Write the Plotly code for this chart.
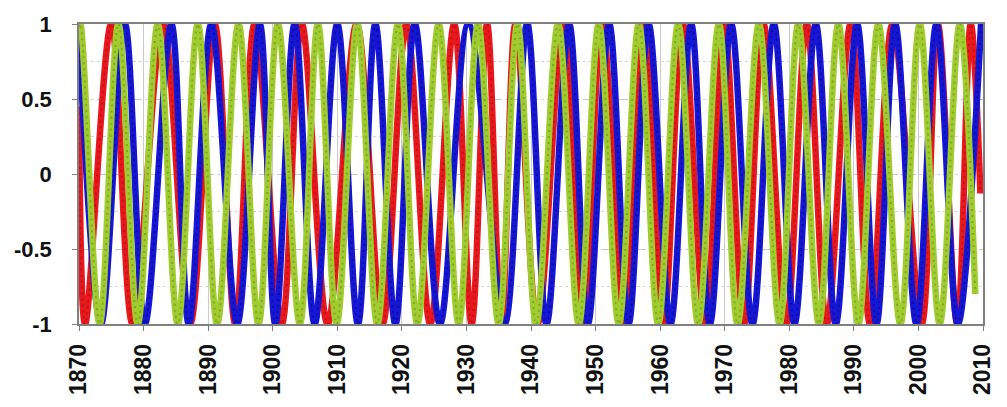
import plotly.graph_objects as go

# Turning points of each cycle (year, value); the curves are smoothed between them.
green_years = [1870.0, 1870.2, 1873.2, 1876.1, 1879.1, 1882.2, 1885.3, 1888.4, 1891.4, 1894.7,
               1897.8, 1900.8, 1904.2, 1907.0, 1909.9, 1913.1, 1916.2, 1919.4, 1922.4, 1925.7,
               1928.8, 1931.8, 1935.0, 1937.9, 1940.8, 1944.2, 1947.4, 1950.5, 1953.6, 1956.7,
               1959.7, 1962.8, 1965.9, 1969.1, 1972.0, 1975.3, 1978.5, 1981.4, 1984.6, 1987.6,
               1990.7, 1993.8, 1997.2, 2000.2, 2003.3, 2006.4, 2008.8]
green_vals = [0.98, 1, -1, 1, -1, 1, -1, 1, -1, 1,
              -1, 1, -1, 1, -1, 1, -1, 1, -1, 1,
              -1, 1, -1, 1, -1, 1, -1, 1, -1, 1,
              -1, 1, -1, 1, -1, 1, -1, 1, -1, 1,
              -1, 1, -1, 1, -1, 1, -0.8]

blue_years = [1870.0, 1873.4, 1877.1, 1880.2, 1884.3, 1887.0, 1890.5, 1894.5, 1898.0, 1900.4,
              1903.4, 1906.5, 1910.0, 1913.2, 1915.9, 1919.0, 1922.0, 1925.9, 1930.3, 1935.9,
              1939.4, 1942.4, 1945.9, 1948.8, 1952.1, 1955.1, 1958.2, 1961.6, 1964.8, 1967.7,
              1971.0, 1974.3, 1977.6, 1980.8, 1984.1, 1987.2, 1990.5, 1993.5, 1996.4, 1999.7,
              2002.8, 2006.1, 2009.7]
blue_vals = [0.92, -1, 1, -1, 1, -1, 1, -1, 1, -1,
             1, -1, 1, -1, 1, -1, 1, -1, 1, -1,
             1, -1, 1, -1, 1, -1, 1, -1, 1, -1,
             1, -1, 1, -1, 1, -1, 1, -1, 1, -1,
             1, -1, 1]

red_years = [1870.0, 1870.95, 1875.0, 1878.3, 1883.0, 1887.2, 1891.0, 1894.2, 1897.2, 1901.4,
             1904.5, 1908.5, 1913.0, 1917.0, 1920.7, 1924.4, 1928.1, 1930.8, 1933.2, 1935.4,
             1937.6, 1941.0, 1945.0, 1948.0, 1951.0, 1954.5, 1957.5, 1960.5, 1963.5, 1967.0,
             1969.9, 1973.0, 1976.0, 1979.5, 1982.7, 1985.8, 1989.5, 1992.5, 1996.0, 2000.5,
             2003.0, 2006.0, 2008.1, 2009.6]
red_vals = [0.45, -1, 1, -1, 1, -1, 1, -1, 1, -1,
            1, -1, 1, -1, 1, -1, 1, -1, 1, -1,
            1, -1, 1, -1, 1, -1, 1, -1, 1, -1,
            1, -1, 1, -1, 1, -1, 1, -1, 1, -1,
            1, -1, 1, -0.13]

x_ticks = list(range(1870, 2011, 10))
y_ticks = [-1, -0.5, 0, 0.5, 1]
y_labels = ["-1", "-0.5", "0", "0.5", "1"]

# (name, years, values, band colour, darker bead colour)
series = [
    ("red", red_years, red_vals, "#e8181d", "#a50f14"),
    ("blue", blue_years, blue_vals, "#1616d6", "#0a0a7a"),
    ("green", green_years, green_vals, "#a0cc30", "#6f8f1a"),
]

fig = go.Figure()
for name, xs, ys, color, dark in series:
    fig.add_trace(go.Scatter(
        x=xs, y=ys, name=name, mode="lines",
        line=dict(color=color, width=6.5, shape="spline", smoothing=1),
        showlegend=False, hoverinfo="skip",
    ))
    # beaded centre line gives the band its dotted texture
    fig.add_trace(go.Scatter(
        x=xs, y=ys, name=name, mode="lines",
        line=dict(color=dark, width=2, shape="spline", smoothing=1, dash="2px,4px"),
        opacity=0.6, showlegend=False,
    ))

tick_font = dict(family="Liberation Sans, Arial, sans-serif", size=22, color="#111111", weight="bold")
x_tick_font = dict(tick_font, size=23)

fig.update_layout(
    width=1007, height=407,
    margin=dict(l=79, r=17, t=20, b=81),
    paper_bgcolor="white", plot_bgcolor="white",
    xaxis=dict(
        range=[1870, 2010], tickvals=x_ticks, ticktext=[str(v) for v in x_ticks],
        tickangle=-90, tickfont=x_tick_font, ticklabelstandoff=4,
        ticks="outside", ticklen=5, tickcolor="#808080",
        showline=True, linecolor="#808080", linewidth=1.5, mirror=True,
        showgrid=True, gridcolor="#cccccc", gridwidth=1, zeroline=False,
    ),
    yaxis=dict(
        range=[-1, 1], tickvals=y_ticks, ticktext=y_labels, tickfont=tick_font,
        ticks="outside", ticklen=5, tickcolor="#808080", ticklabelstandoff=16,
        showline=True, linecolor="#808080", linewidth=1.5, mirror=True,
        showgrid=True, gridcolor="#c8c8c8", griddash="dash", zeroline=False,
        minor=dict(dtick=0.25, showgrid=True, gridcolor="#d4d4d4", griddash="dot"),
    ),
)

fig.write_html("out.html")
